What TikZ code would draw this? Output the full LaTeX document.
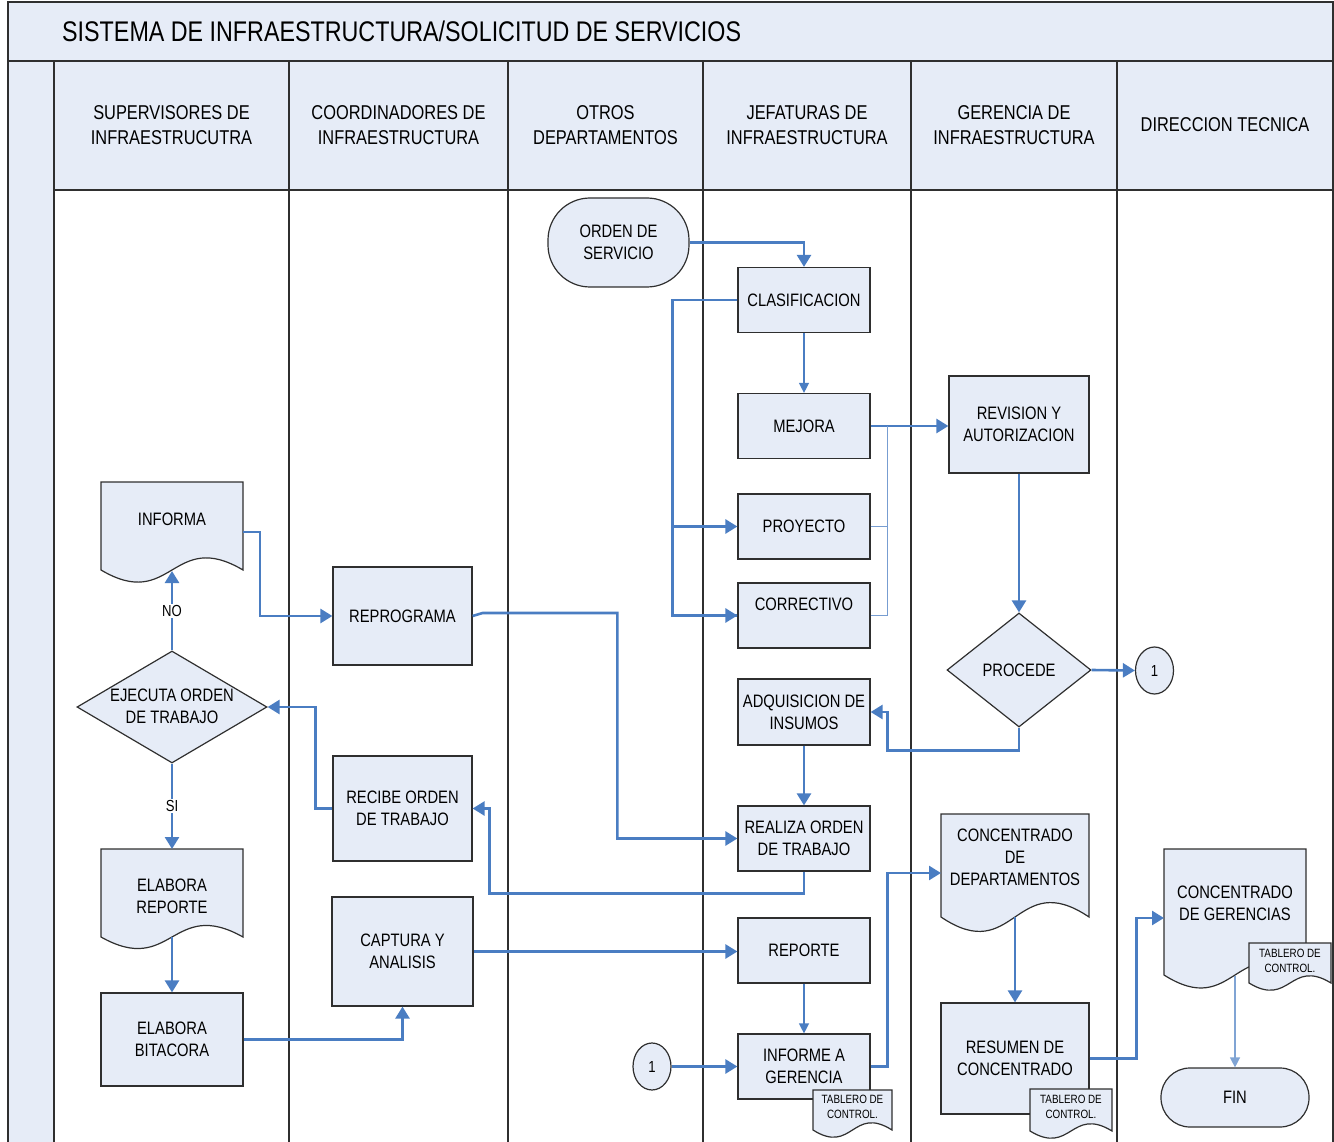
\documentclass[tikz,border=0pt]{standalone}
\usepackage{fontspec}
\setmainfont{Liberation Sans}[FakeStretch=0.82]
\usetikzlibrary{shapes.geometric,arrows.meta,calc}
\definecolor{lane}{HTML}{E6ECF7}
\definecolor{flow}{HTML}{4A7DC2}
\definecolor{edgec}{HTML}{2F2F2F}
% document shape: x0, top, x1, bottom-ends, wave depth
\newcommand\docshape[5]{%
  \filldraw[boxline] (#1,#2) -- (#3,#2) -- (#3,#4)
    .. controls ({(#1+#3)/2},#4-#5) and ({(#1+#3)/2},#4+#5) .. (#1,#4) -- cycle;}
\begin{document}
\begin{tikzpicture}[x=1pt,y=-1pt,
  boxline/.style={draw=edgec, line width=1.2pt, fill=lane},
  proc/.style={boxline, rectangle, inner sep=0pt, align=center, font=\fontsize{18}{22}\selectfont},
  term/.style={proc, rounded corners=#1},
  dia/.style={boxline, diamond, inner sep=0pt},
  conn/.style={boxline, ellipse, inner sep=0pt, minimum width=38, minimum height=47, font=\fontsize{16}{18}\selectfont},
  txt/.style={inner sep=0pt, align=center, font=\fontsize{18}{22}\selectfont},
  small/.style={inner sep=0pt, align=center, font=\fontsize{12}{15}\selectfont},
  head/.style={inner sep=0pt, align=center, font=\fontsize{20}{24.5}\selectfont},
  lbl/.style={fill=white, inner sep=1.5pt, font=\fontsize{16}{18}\selectfont},
  flowline/.style={draw=flow, line width=2.6pt, -{Triangle[length=12pt,width=14pt]}},
  plainflow/.style={draw=flow, line width=2.6pt},
  thinflow/.style={draw=flow, line width=1.3pt, -{Triangle[length=10pt,width=10pt]}},
  thinline/.style={draw=flow!75, line width=1.3pt},
  laneline/.style={draw=edgec, line width=1.4pt}
]
\useasboundingbox (0,0) rectangle (1334,1142);

% ---------- lanes ----------
\fill[lane] (8,2) rectangle (1333,61);
\fill[lane] (8,61) rectangle (54,1142);
\fill[lane] (54,61) rectangle (1333,190);
\draw[laneline] (8,1142) -- (8,2) -- (1333,2) -- (1333,1142);
\draw[draw=edgec, line width=2.2pt] (8,61) -- (1333,61);
\draw[laneline] (54,190) -- (1333,190);
\foreach \xx in {54,289,508,703,911,1117} \draw[laneline] (\xx,61) -- (\xx,1142);

\node[anchor=west, inner sep=0pt, font=\fontsize{28.4}{34}\selectfont] (title) at (62,31) {SISTEMA DE INFRAESTRUCTURA/SOLICITUD DE SERVICIOS};
\node[head] (h1) at (171.5,125) {SUPERVISORES DE\\INFRAESTRUCUTRA};
\node[head] (h2) at (398.5,125) {COORDINADORES DE\\INFRAESTRUCTURA};
\node[head] (h3) at (605.5,125) {OTROS\\DEPARTAMENTOS};
\node[head] (h4) at (807,125) {JEFATURAS DE\\INFRAESTRUCTURA};
\node[head] (h5) at (1014,125) {GERENCIA DE\\INFRAESTRUCTURA};
\node[head] (h6) at (1225,125) {DIRECCION TECNICA};

% ---------- process boxes ----------
\node[term=42, minimum width=141, minimum height=89] (orden) at (618.5,242.5) {ORDEN DE\\SERVICIO};
\node[proc, minimum width=132, minimum height=65] (clas) at (804,300) {CLASIFICACION};
\node[proc, minimum width=132, minimum height=65] (mejora) at (804,426) {MEJORA};
\node[proc, minimum width=132, minimum height=65] (proy) at (804,526.5) {PROYECTO};
\node[proc, minimum width=132, minimum height=65] (corr) at (804,615.5) {CORRECTIVO\\\mbox{}};
\node[proc, minimum width=132, minimum height=66] (adq) at (804,712) {ADQUISICION DE\\INSUMOS};
\node[proc, minimum width=132, minimum height=65] (realiza) at (804,838.5) {REALIZA ORDEN\\DE TRABAJO};
\node[proc, minimum width=132, minimum height=65] (reporte) at (804,950.5) {REPORTE};
\node[proc, minimum width=132, minimum height=65] (informe) at (804,1066.5) {INFORME A\\GERENCIA};
\node[proc, minimum width=140, minimum height=97] (revision) at (1019,424.5) {REVISION Y\\AUTORIZACION};
\node[proc, minimum width=139, minimum height=98] (reprog) at (402.5,616) {REPROGRAMA};
\node[proc, minimum width=139, minimum height=105] (recibe) at (402.5,808.5) {RECIBE ORDEN\\DE TRABAJO};
\node[proc, minimum width=141, minimum height=109] (captura) at (402.5,951.5) {CAPTURA Y\\ANALISIS};
\node[proc, minimum width=142, minimum height=93] (bitacora) at (172,1039.5) {ELABORA\\BITACORA};
\node[proc, minimum width=148, minimum height=111] (resumen) at (1015,1058.5) {RESUMEN DE\\CONCENTRADO};
\node[term=29, minimum width=148, minimum height=59] (fin) at (1235,1097.5) {FIN};
\node[dia, minimum width=144, minimum height=114] (procede) at (1019,670) {};
\node[txt] (procedetxt) at (procede.center) {PROCEDE};
\node[dia, minimum width=190, minimum height=112] (ejecuta) at (172,707) {};
\node[txt] (ejecutatxt) at (172,706) {EJECUTA ORDEN\\DE TRABAJO};
\node[conn] (c1a) at (1154.5,670.5) {1};
\node[conn] (c1b) at (652,1066.5) {1};

% ---------- documents ----------
\docshape{101}{482}{243}{570}{42}
\node[txt] (informa) at (172,519) {INFORMA};
\coordinate (informa-r) at (243,532);
\coordinate (informa-b) at (172,571);
\docshape{101}{849}{243}{937}{40}
\node[txt] (elabrep) at (172,896.5) {ELABORA\\REPORTE};
\coordinate (elabrep-t) at (172,849);
\coordinate (elabrep-b) at (172,937);
\docshape{941}{814}{1089}{917}{50}
\node[txt] (concdep) at (1015,857) {CONCENTRADO\\DE\\DEPARTAMENTOS};
\coordinate (concdep-l) at (941,873);
\coordinate (concdep-b) at (1015,917);
\docshape{1164}{849}{1306}{975}{45}
\node[txt] (concger) at (1235,903.5) {CONCENTRADO\\DE GERENCIAS};
\coordinate (concger-l) at (1164,918);
\coordinate (concger-b) at (1235,976);

% ---------- connectors ----------
\draw[flowline] (orden.east) -| (clas.north);
\draw[plainflow] (clas.west) -- ++(-65,0) coordinate (cj) |- (corr.west);
\draw[flowline] (cj |- proy.west) -- (proy.west);
\draw[flowline] (cj |- corr.west) -- (corr.west);
\draw[thinflow] (clas.south) -- (mejora.north);
\draw[flowline] (mejora.east) -- (mejora.east -| revision.west);
\coordinate (mj) at ($(mejora.east)+(17,0)$);
\draw[thinline] (proy.east) -| (mj);
\draw[thinline] (corr.east) -| (mj);
\draw[flowline] (revision.south) -- (procede.north);
\draw[flowline] (procede.east) -- (c1a.west);
\draw[flowline] (procede.south) -- ++(0,23) -| ([xshift=17pt]adq.east) -- (adq.east);
\draw[flowline] (adq.south) -- (realiza.north);
\draw[flowline] (reprog.east) -- ++(10,-3) -| ([xshift=-120pt]realiza.west) -- (realiza.west);
\draw[flowline] (realiza.south) -- ++(0,22) -| ([xshift=17pt]recibe.east) -- (recibe.east);
\draw[flowline] (recibe.west) -- ++(-17,0) |- (ejecuta.east);
\draw[flowline] (ejecuta.north) -- node[lbl] (no) {NO} (informa-b);
\draw[flowline] (ejecuta.south) -- node[lbl] (si) {SI} (elabrep-t);
\draw[flowline] (informa-r) -- ++(17,0) |- (reprog.west);
\draw[flowline] (elabrep-b) -- (bitacora.north);
\draw[flowline] (bitacora.east) -| (captura.south);
\draw[flowline] (captura.east) -- (captura.east -| reporte.west);
\draw[thinflow] (reporte.south) -- (informe.north);
\draw[flowline] (c1b.east) -- (informe.west);
\draw[flowline] (informe.east) -- ++(17,0) |- (concdep-l);
\draw[flowline] (concdep-b) -- (resumen.north);
\draw[flowline] (resumen.east) -- ++(47,0) |- (concger-l);
\draw[thinflow, draw=flow!70] (concger-b) -- (fin.north);

% ---------- tablero de control ----------
\docshape{813}{1090}{892}{1130}{25}
\node[small] (tab1) at (852.5,1107) {TABLERO DE\\CONTROL.};
\docshape{1030}{1089}{1112}{1131}{25}
\node[small] (tab2) at (1071,1106.5) {TABLERO DE\\CONTROL.};
\docshape{1249}{943}{1331}{983}{25}
\node[small] (tab3) at (1290,960.5) {TABLERO DE\\CONTROL.};
\end{tikzpicture}
\end{document}
